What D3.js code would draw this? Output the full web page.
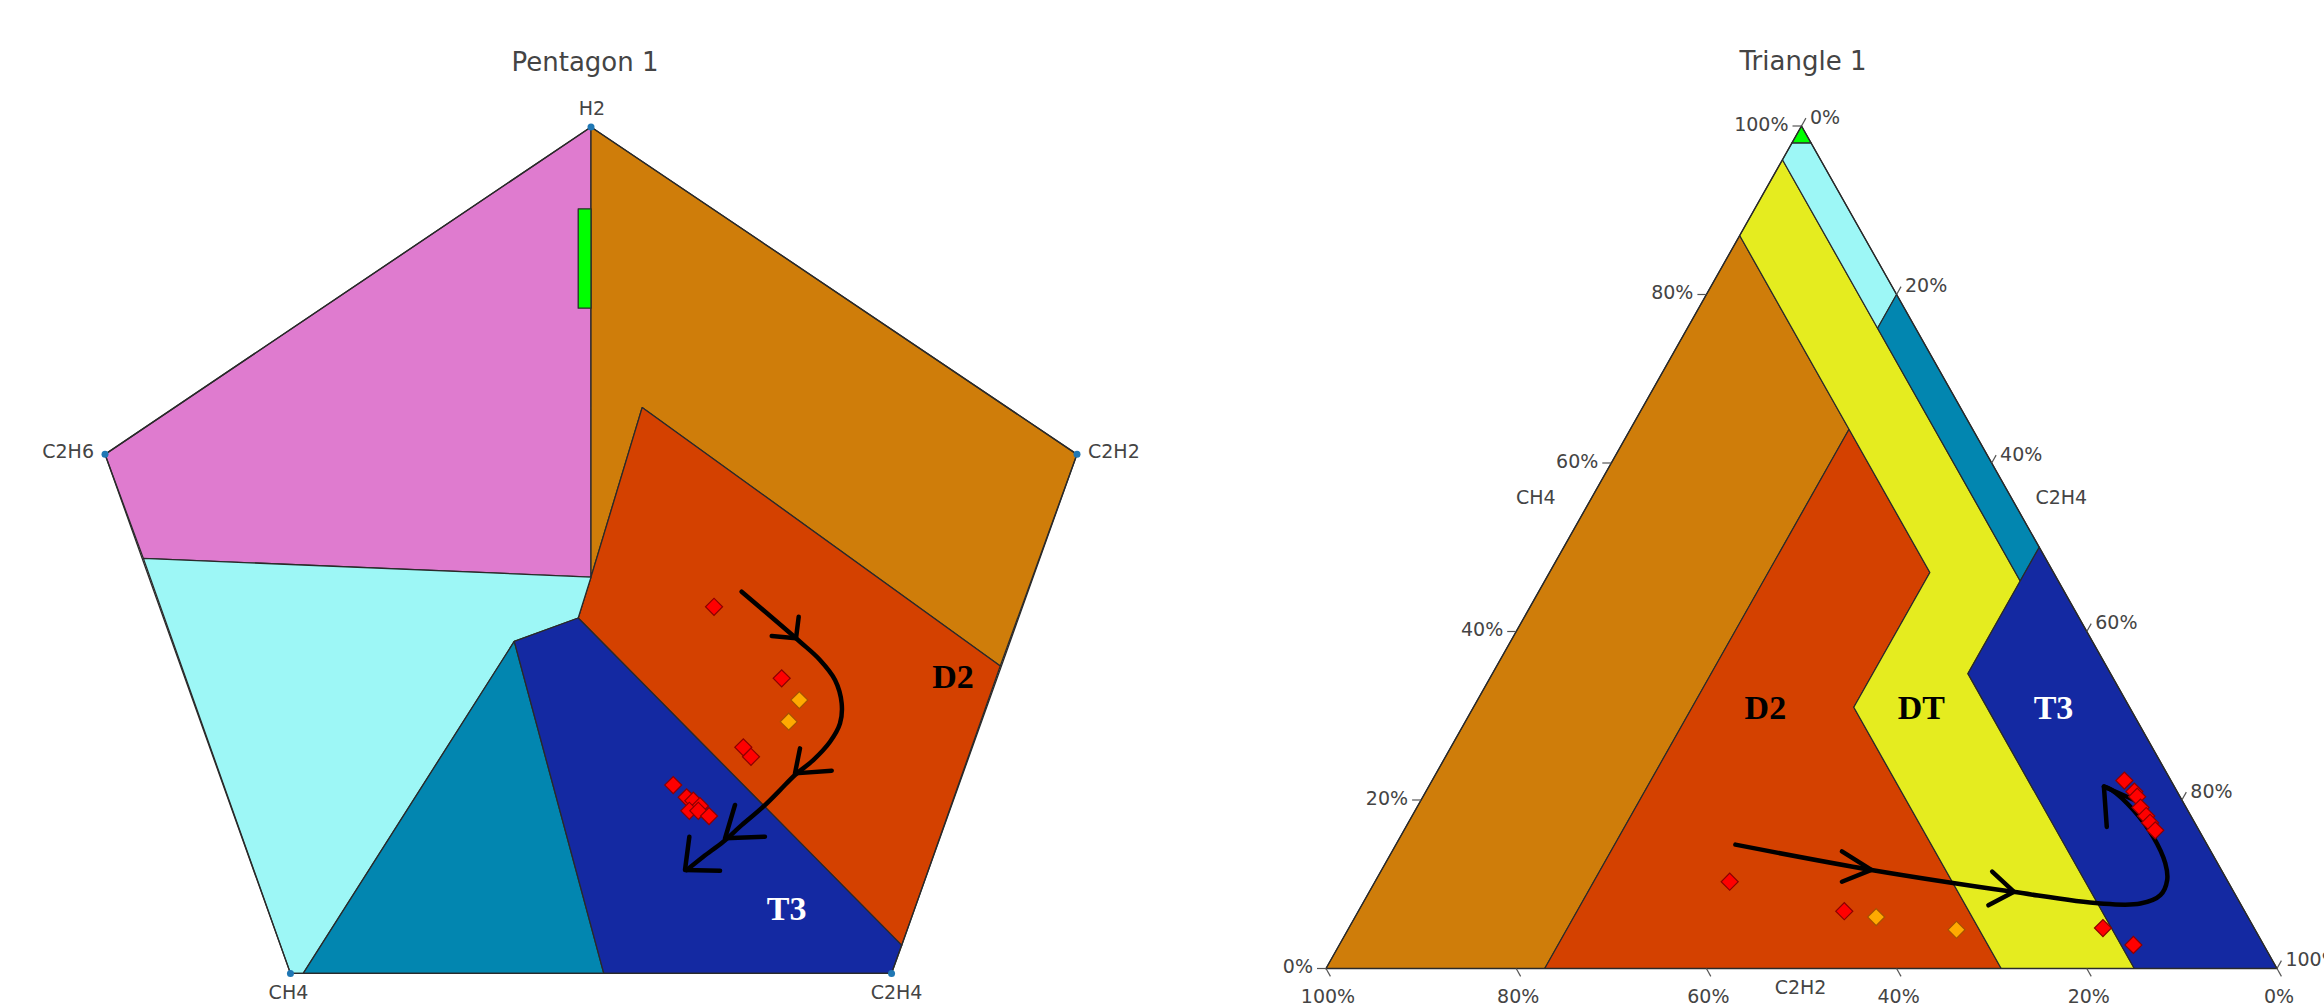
<!DOCTYPE html>
<html>
<head>
<meta charset="utf-8">
<script src="https://cdn.jsdelivr.net/npm/d3@7"></script>
<style>
  html, body { margin: 0; padding: 0; background: #fff; overflow: hidden; }
  text { font-family: "DejaVu Sans", Verdana, sans-serif; }
</style>
</head>
<body>
<svg id="chart" width="2324" height="1007"></svg>
<script>
// ---------- Duval Pentagon 1 (x, y in pentagon units) ----------
const pentagonVertices = [
  { name: "H2",   x: 0,     y: 40 },
  { name: "C2H2", x: 38,    y: 12 },
  { name: "C2H4", x: 23.5,  y: -32.4 },
  { name: "CH4",  x: -23.5, y: -32.4 },
  { name: "C2H6", x: -38,   y: 12 }
];

const pentZoneS  = [[-35, 3.1], [-38, 12], [0, 40], [0, 1.5]];
const pentZoneD1 = [[0, 40], [38, 12], [32, -6.1], [4, 16], [0, 1.5]];
const pentZoneD2 = [[4, 16], [32, -6.1], [24.3, -30], [-1, -2], [0, 1.5]];
const pentZoneT1 = [[-35, 3.1], [0, 1.5], [-1, -2], [-6, -4], [-22.5, -32.4], [-23.5, -32.4]];
const pentZoneT2 = [[-6, -4], [1, -32.4], [-22.5, -32.4]];
const pentZoneT3 = [[-6, -4], [-1, -2], [24.3, -30], [23.5, -32.4], [1, -32.4]];
const pentZonePD = [[-1, 33], [0, 33], [0, 24.5], [-1, 24.5]];

// sample points in pentagon coordinates
const pentPointX = [9.62, 14.91, 16.29, 15.46, 11.91, 12.51, 6.43, 7.48, 8.00, 8.52, 7.69, 8.39, 9.23];
const pentPointY = [-1.04, -7.16, -9.02, -10.87, -13.06, -13.87, -16.29, -17.34, -17.63, -18.08, -18.49, -18.49, -18.94];
const pentPointKind = ["red", "red", "orange", "orange", "red", "red", "red", "red", "red", "red", "red", "red", "red"];

// trend arrow drawn over the pentagon
const pentArrowPath = [
  [11.78, 0.25], [16.34, -4.03], [17.90, -5.59], [19.08, -7.30], [19.60, -9.30],
  [19.47, -11.01], [18.69, -12.58], [17.38, -14.15], [15.95, -15.43], [14.78, -16.72],
  [13.47, -18.14], [11.65, -19.85], [10.34, -21.14], [8.78, -22.42], [7.48, -23.56]
];
const pentArrowHeads = [
  { tip: [16.03, -3.74], barbs: [[14.13, -3.54], [16.24, -1.89]] },
  { tip: [15.95, -15.29], barbs: [[16.34, -13.15], [18.82, -15.06]] },
  { tip: [10.48, -20.85], barbs: [[11.26, -17.99], [13.60, -20.71]] },
  { tip: [7.35, -23.56], barbs: [[7.69, -20.71], [10.09, -23.62]] }
];

const pentZoneLabels = [
  { text: "D2", x: 28.3, y: -8.0, color: "#000" },
  { text: "T3", x: 15.3, y: -27.8, color: "#fff" }
];

// ---------- Duval Triangle 1 (CH4 %, C2H4 %, C2H2 %) ----------
const triZonePD = [[100, 0, 0], [98, 2, 0], [98, 0, 2]];
const triZoneT1 = [[98, 2, 0], [80, 20, 0], [76, 20, 4], [96, 0, 4], [98, 0, 2]];
const triZoneT2 = [[80, 20, 0], [50, 50, 0], [46, 50, 4], [76, 20, 4]];
const triZoneT3 = [[50, 50, 0], [0, 100, 0], [0, 85, 15], [35, 50, 15], [46, 50, 4]];
const triZoneD1 = [[87, 0, 13], [0, 0, 100], [0, 23, 77], [64, 23, 13]];
const triZoneD2 = [[64, 23, 13], [0, 23, 77], [0, 71, 29], [31, 40, 29], [47, 40, 13]];
const triZoneDT = [[96, 0, 4], [87, 0, 13], [64, 23, 13], [47, 40, 13], [31, 40, 29],
                   [0, 71, 29], [0, 85, 15], [35, 50, 15], [46, 50, 4], [76, 20, 4]];

const triPointCH4  = [10.3, 6.8, 6.1, 4.6, 4.8, 2.8, 22.3, 21.0, 20.4, 19.1, 18.1, 17.3, 16.4];
const triPointC2H4 = [37.3, 51.1, 54.8, 64.0, 79.3, 83.5, 72.8, 74.5, 75.1, 76.1, 77.2, 78.0, 79.0];
const triPointC2H2 = [52.4, 42.1, 39.1, 31.4, 15.9, 13.7, 4.9, 4.5, 4.5, 4.8, 4.7, 4.7, 4.6];
const triPointKind = ["red", "red", "orange", "orange", "red", "red", "red", "red", "red", "red", "red", "red", "red"];

const triArrowPath = [
  [14.7, 35.7, 49.6], [11.7, 51.5, 36.8], [9.1, 67.7, 23.2], [7.7, 77.5, 14.7],
  [7.7, 81.7, 10.5], [8.7, 83.3, 7.9], [10.5, 83.2, 6.3], [12.5, 82.0, 5.5],
  [15.6, 79.2, 5.2], [18.8, 75.5, 5.7], [21.2, 72.0, 6.8], [21.6, 71.0, 7.4]
];
const triArrowHeads = [
  { tip: [11.7, 51.5, 36.8], barbs: [[13.9, 47.3, 38.8], [10.3, 49.1, 40.6]] },
  { tip: [9.1, 67.8, 23.1],  barbs: [[11.5, 64.3, 24.2], [7.5, 65.9, 26.6]] },
  { tip: [21.6, 71.0, 7.4],  barbs: [[16.8, 73.7, 9.5], [19.8, 75.5, 4.7]] }
];

const triTicks = [0, 20, 40, 60, 80, 100];
const triZoneLabels = [
  { text: "D2", v: [31, 30.7, 38.3], color: "#000" },
  { text: "DT", v: [31, 47.1, 21.9], color: "#000" },
  { text: "T3", v: [31, 61.0, 8.0],  color: "#fff" }
];

const zoneColor = {
  PD: "#00FF00", S: "#DF7BCF", T1: "#9DF7F6", T2: "#0286B0",
  T3: "#1429A2", D1: "#CF7D0A", D2: "#D44100", DT: "#E5EC1F"
};
const markerFill   = { red: "#FF0000", orange: "#FFAA00" };
const markerStroke = { red: "#8B0000", orange: "#A65200" };

const svg = d3.select("#chart");
const textColor = "#444";
const edgeColor = "#2a2a2a";
const zoneFont = "'Liberation Serif', 'Times New Roman', serif";

// ================= Pentagon =================
const px = d3.scaleLinear().domain([-38, 38]).range([105, 1077]);
const py = d3.scaleLinear().domain([-32.4, 40]).range([973.4, 127]);
const pentLine = d3.line().x(d => px(d[0])).y(d => py(d[1]));

const pent = svg.append("g").attr("class", "pentagon");

const pentZones = [
  [pentZoneS, "S"], [pentZoneD1, "D1"], [pentZoneD2, "D2"], [pentZoneT1, "T1"],
  [pentZoneT2, "T2"], [pentZoneT3, "T3"], [pentZonePD, "PD"]
];
pent.selectAll("path.zone").data(pentZones).join("path")
  .attr("class", "zone")
  .attr("d", d => pentLine(d[0]) + "Z")
  .attr("fill", d => zoneColor[d[1]])
  .attr("stroke", edgeColor).attr("stroke-width", 1.3).attr("stroke-linejoin", "round");

pent.append("path")
  .attr("d", pentLine(pentagonVertices.map(v => [v.x, v.y])) + "Z")
  .attr("fill", "none").attr("stroke", edgeColor).attr("stroke-width", 1.3);

pent.selectAll("circle.vtx").data(pentagonVertices).join("circle")
  .attr("class", "vtx").attr("cx", d => px(d.x)).attr("cy", d => py(d.y))
  .attr("r", 3.5).attr("fill", "#1f77b4");

const vLabelPos = {
  H2:   { dx: 1,   dy: -12, anchor: "middle" },
  C2H2: { dx: 11,  dy: 4,   anchor: "start" },
  C2H4: { dx: 5,   dy: 26,  anchor: "middle" },
  CH4:  { dx: -2,  dy: 26,  anchor: "middle" },
  C2H6: { dx: -11, dy: 4,   anchor: "end" }
};
pent.selectAll("text.vlabel").data(pentagonVertices).join("text")
  .attr("class", "vlabel")
  .attr("x", d => px(d.x) + vLabelPos[d.name].dx)
  .attr("y", d => py(d.y) + vLabelPos[d.name].dy)
  .attr("text-anchor", d => vLabelPos[d.name].anchor)
  .attr("font-size", 19).attr("fill", textColor)
  .text(d => d.name);

pent.selectAll("text.zlabel").data(pentZoneLabels).join("text")
  .attr("class", "zlabel")
  .attr("x", d => px(d.x)).attr("y", d => py(d.y))
  .attr("text-anchor", "middle")
  .style("font-family", zoneFont)
  .attr("font-weight", "bold").attr("font-size", 34)
  .attr("fill", d => d.color)
  .text(d => d.text);

// trend arrow
const pentCurve = d3.line().x(d => px(d[0])).y(d => py(d[1])).curve(d3.curveCatmullRom);
const pentArrow = pent.append("g").attr("fill", "none").attr("stroke", "#000")
  .attr("stroke-width", 4.5).attr("stroke-linecap", "round").attr("stroke-linejoin", "round");
pentArrow.append("path").attr("d", pentCurve(pentArrowPath));
pentArrow.selectAll("path.head").data(pentArrowHeads).join("path")
  .attr("class", "head")
  .attr("d", d => pentLine([d.barbs[0], d.tip, d.barbs[1]]));

const diamond = d3.symbol().type(d3.symbolSquare).size(145);
const pentPoints = pentPointX.map((x, i) => ({ x, y: pentPointY[i], kind: pentPointKind[i] }));
pent.selectAll("path.pt").data(pentPoints).join("path")
  .attr("class", "pt")
  .attr("d", diamond)
  .attr("transform", d => `translate(${px(d.x)},${py(d.y)}) rotate(45)`)
  .attr("fill", d => markerFill[d.kind])
  .attr("stroke", d => markerStroke[d.kind]).attr("stroke-width", 1.2);

svg.append("text")
  .attr("x", 585).attr("y", 71).attr("text-anchor", "middle")
  .attr("font-size", 26).attr("fill", textColor)
  .text("Pentagon 1");

// ================= Triangle =================
const ty = d3.scaleLinear().domain([0, 100]).range([968.5, 126]);    // CH4 share
const tx = d3.scaleLinear().domain([0, 100]).range([1326, 2277]);    // C2H4 + CH4/2
function tern(v) {
  const s = v[0] + v[1] + v[2];
  const a = v[0] / s * 100, b = v[1] / s * 100;
  return [tx(b + a / 2), ty(a)];
}
const triLine = d3.line().x(d => tern(d)[0]).y(d => tern(d)[1]);

const tri = svg.append("g").attr("class", "triangle");
const triZones = [
  [triZoneD1, "D1"], [triZoneD2, "D2"], [triZoneDT, "DT"], [triZoneT1, "T1"],
  [triZoneT2, "T2"], [triZoneT3, "T3"], [triZonePD, "PD"]
];
tri.selectAll("path.zone").data(triZones).join("path")
  .attr("class", "zone")
  .attr("d", d => triLine(d[0]) + "Z")
  .attr("fill", d => zoneColor[d[1]])
  .attr("stroke", edgeColor).attr("stroke-width", 1.2).attr("stroke-linejoin", "round");

tri.append("path")
  .attr("d", triLine([[100, 0, 0], [0, 100, 0], [0, 0, 100]]) + "Z")
  .attr("fill", "none").attr("stroke", edgeColor).attr("stroke-width", 1.3);

// axes: left = CH4, right = C2H4, bottom = C2H2
const tickLen = 9;
const axes = tri.append("g").attr("font-size", 19).attr("fill", textColor);
const leftTicks = triTicks.map(v => ({ v, p: tern([v, 0, 100 - v]) }));
axes.selectAll("line.lt").data(leftTicks).join("line")
  .attr("x1", d => d.p[0]).attr("y1", d => d.p[1])
  .attr("x2", d => d.p[0] - tickLen).attr("y2", d => d.p[1])
  .attr("stroke", "#555").attr("stroke-width", 1.2);
axes.selectAll("text.lt").data(leftTicks).join("text")
  .attr("class", "lt")
  .attr("x", d => d.p[0] - tickLen - 4).attr("y", d => d.p[1] - 2)
  .attr("dy", "0.35em").attr("text-anchor", "end")
  .text(d => d.v + "%");

const rdir = [0.491, -0.871];
const rightTicks = triTicks.map(v => ({ v, p: tern([100 - v, v, 0]) }));
axes.selectAll("line.rt").data(rightTicks).join("line")
  .attr("x1", d => d.p[0]).attr("y1", d => d.p[1])
  .attr("x2", d => d.p[0] + tickLen * rdir[0]).attr("y2", d => d.p[1] + tickLen * rdir[1])
  .attr("stroke", "#555").attr("stroke-width", 1.2);
axes.selectAll("text.rt").data(rightTicks).join("text")
  .attr("class", "rt")
  .attr("x", d => d.p[0] + tickLen * rdir[0] + 4).attr("y", d => d.p[1] + tickLen * rdir[1] - 1)
  .attr("dy", "0.35em").attr("text-anchor", "start")
  .text(d => d.v + "%");

const bdir = [0.492, 0.871];
const bottomTicks = triTicks.map(v => ({ v, p: tern([0, 100 - v, v]) }));
axes.selectAll("line.bt").data(bottomTicks).join("line")
  .attr("x1", d => d.p[0]).attr("y1", d => d.p[1])
  .attr("x2", d => d.p[0] + tickLen * bdir[0]).attr("y2", d => d.p[1] + tickLen * bdir[1])
  .attr("stroke", "#555").attr("stroke-width", 1.2);
axes.selectAll("text.bt").data(bottomTicks).join("text")
  .attr("class", "bt")
  .attr("x", d => d.p[0] + 2).attr("y", 1003)
  .attr("text-anchor", "middle")
  .text(d => d.v + "%");

// axis titles
const axisTitles = [
  { text: "CH4",  p: tern([50, 0, 50]),  dx: -28, dy: -43 },
  { text: "C2H4", p: tern([50, 50, 0]),  dx: 22,  dy: -43 },
  { text: "C2H2", p: tern([0, 50, 50]),  dx: -1,  dy: 25.5 }
];
axes.selectAll("text.at").data(axisTitles).join("text")
  .attr("class", "at")
  .attr("x", d => d.p[0] + d.dx).attr("y", d => d.p[1] + d.dy)
  .attr("text-anchor", "middle")
  .text(d => d.text);

tri.selectAll("text.zlabel").data(triZoneLabels).join("text")
  .attr("class", "zlabel")
  .attr("x", d => tern(d.v)[0]).attr("y", d => tern(d.v)[1] + 12)
  .attr("text-anchor", "middle")
  .style("font-family", zoneFont)
  .attr("font-weight", "bold").attr("font-size", 34)
  .attr("fill", d => d.color)
  .text(d => d.text);

const triCurve = d3.line().x(d => tern(d)[0]).y(d => tern(d)[1]).curve(d3.curveCatmullRom);
const triArrow = tri.append("g").attr("fill", "none").attr("stroke", "#000")
  .attr("stroke-width", 4.5).attr("stroke-linecap", "round").attr("stroke-linejoin", "round");
triArrow.append("path").attr("d", triCurve(triArrowPath));
triArrow.selectAll("path.head").data(triArrowHeads).join("path")
  .attr("class", "head")
  .attr("d", d => triLine([d.barbs[0], d.tip, d.barbs[1]]));

const triPoints = triPointCH4.map((c, i) => ({ v: [c, triPointC2H4[i], triPointC2H2[i]], kind: triPointKind[i] }));
tri.selectAll("path.pt").data(triPoints).join("path")
  .attr("class", "pt")
  .attr("d", diamond)
  .attr("transform", d => { const p = tern(d.v); return `translate(${p[0]},${p[1]}) rotate(45)`; })
  .attr("fill", d => markerFill[d.kind])
  .attr("stroke", d => markerStroke[d.kind]).attr("stroke-width", 1.2);

svg.append("text")
  .attr("x", 1803).attr("y", 70).attr("text-anchor", "middle")
  .attr("font-size", 26).attr("fill", textColor)
  .text("Triangle 1");
</script>
</body>
</html>
